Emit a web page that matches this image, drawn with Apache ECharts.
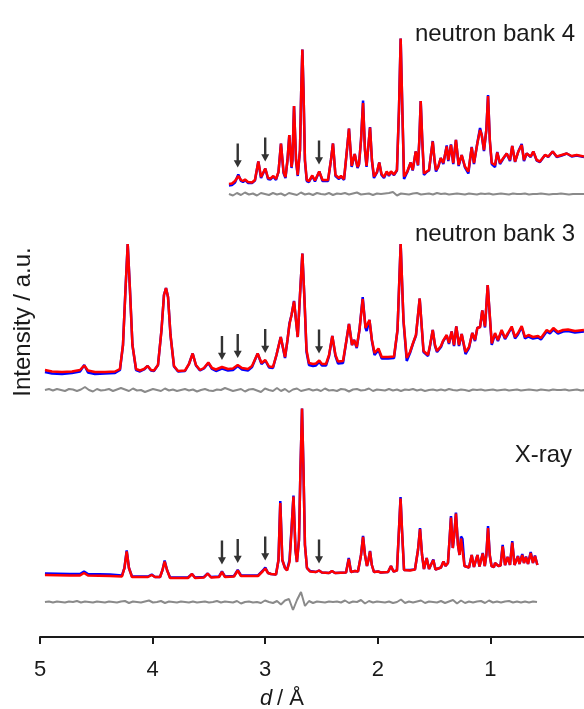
<!DOCTYPE html>
<html>
<head>
<meta charset="utf-8">
<script src="https://cdn.jsdelivr.net/npm/echarts@6/dist/echarts.min.js"></script>
<style>
  html, body { margin: 0; padding: 0; background: #ffffff; }
  #chart { width: 584px; height: 709px; }
</style>
</head>
<body>
<div id="chart"></div>
<script>
// ---- X-ray pattern: d-spacing (Å), calculated and observed intensity ----
const xrayD = [
  4.956, 4.734, 4.645, 4.609, 4.574, 4.378, 4.272, 4.250, 4.230, 4.210,
  4.183, 4.041, 4.008, 3.979, 3.934, 3.912, 3.893, 3.872, 3.845, 3.686,
  3.650, 3.623, 3.544, 3.511, 3.481, 3.410, 3.384, 3.357, 3.277, 3.244,
  3.215, 3.064, 3.020, 2.999, 2.975, 2.948, 2.931, 2.904, 2.882, 2.866,
  2.848, 2.824, 2.806, 2.784, 2.766, 2.749, 2.731, 2.718, 2.700, 2.687,
  2.673, 2.660, 2.647, 2.629, 2.602, 2.549, 2.522, 2.496, 2.433, 2.407,
  2.380, 2.282, 2.258, 2.238, 2.202, 2.176, 2.149, 2.131, 2.114, 2.096,
  2.083, 2.069, 2.053, 2.034, 1.998, 1.972, 1.909, 1.883, 1.861, 1.830,
  1.812, 1.798, 1.785, 1.767, 1.714, 1.670, 1.643, 1.625, 1.607, 1.590,
  1.566, 1.545, 1.528, 1.507, 1.488, 1.439, 1.417, 1.399, 1.377, 1.363,
  1.350, 1.334, 1.321, 1.306, 1.288, 1.274, 1.261, 1.248, 1.230, 1.190,
  1.166, 1.146, 1.132, 1.115, 1.097, 1.083, 1.068, 1.050, 1.036, 1.021,
  1.006, 0.990, 0.968, 0.959, 0.944, 0.928, 0.910, 0.891, 0.870, 0.846,
  0.826, 0.806, 0.786, 0.773, 0.755, 0.742, 0.717, 0.702, 0.684, 0.666,
  0.642, 0.622, 0.604, 0.583
];
const xrayCalc = [
  2, 1.5, 1.5, 4, 1.5, 1, 0.5, 9, 25.5, 9,
  0, 0, 2, 0, 0, 7, 15.5, 7, -1, -1,
  3, -1, -0.5, 3.5, -0.5, 0, 5, 0, 0.5, 6.5,
  1, 1, 6, 8.5, 4, 3, 4.5, 2.5, 17, 74,
  17, 9, 6.5, 15, 47, 80.5, 27, 15, 37, 107,
  168.5, 107, 32, 9, 5.5, 5, 6.5, 4.5, 4, 6,
  4, 4.5, 18, 5, 6, 5.5, 22, 40, 22, 11,
  17, 25.5, 12, 5, 5.5, 4.5, 5, 11, 5.5, 6.5,
  47, 78.5, 47, 7, 6.5, 7.5, 27, 48, 22, 8,
  19, 8, 8, 17, 7.5, 9.5, 15.5, 11, 14, 37,
  59.5, 29, 42, 63.5, 32, 22, 38.5, 37, 11, 9.5,
  22, 10, 10, 22, 10.5, 11, 23.5, 11, 22, 49,
  22, 11, 10, 14, 15.5, 11, 11.5, 30.5, 12, 20,
  12, 34.5, 12, 11.5, 20.5, 13, 22, 14, 20, 13,
  24, 14, 21, 12
];
const xrayObs = [
  3.5, 3, 3, 5.5, 3, 2.5, 1.5, 9, 26.5, 9,
  0.5, 0.5, 2.5, 0, 0, 7, 16.5, 7, -0.5, -0.5,
  3, -0.5, 0, 3.5, 0, 0.5, 5.5, 0.5, 1, 7,
  1.5, 1.5, 6.5, 9.5, 4, 3, 4.5, 2.5, 17, 76,
  17, 9, 7, 17, 49, 81.5, 27, 15, 37, 107,
  168.5, 107, 32, 9, 6, 5, 6.5, 4.5, 4, 6,
  4, 4.5, 19, 5, 6, 5.5, 22, 41, 22, 11,
  17, 26, 12, 5, 5.5, 4.5, 5, 11, 5.5, 6.5,
  47, 80, 47, 7, 7, 7.5, 27, 49, 22, 8,
  19, 8, 8, 17.5, 7.5, 9.5, 15.5, 11, 14, 37,
  61, 29, 42, 64.5, 32, 22, 40.5, 38, 11, 9.5,
  22, 10, 10, 22, 10.5, 11, 24, 11, 22, 51,
  22, 11, 10, 14, 15.5, 11, 11.5, 32, 12, 20,
  12, 36, 12, 11.5, 21, 13, 23, 14, 20.5, 13,
  25, 14, 21.5, 12
];
// difference curve, evenly stepped from first to last d
const xrayDiffRange = [4.956, 0.586];
const xrayDiff = [
  0, 0.5, -0.5, 0.5, 0, -0.5, 0.5, 0, 1, -0.5,
  0.5, 0, -0.5, 0.5, 0, -0.5, 0.5, 0, -0.5, 0.5,
  1, -1, 0.5, 0, -0.5, 0.5, 1.5, -0.5, 0, 1,
  -1, 0.5, 0, -0.5, 0.5, 0, -0.5, 0.5, -0.5, 0,
  0.5, -0.5, 0, 1, -0.5, 0.5, 0, -0.5, 1, -1.5,
  0, 0.5, -0.5, 0, -1, 1.5, 0, -1, 1, -2.5,
  1.5, 3, -8, 2, 10, -4, 1, -1, 0.5, 0,
  -0.5, 0.5, 0, 0.5, -0.5, 1.5, -1, 0.5, 0, 2,
  -1.5, 1, -0.5, 0.5, 0, -0.5, 0.5, -1, 0, 2.5,
  -1, 0.5, -0.5, 0.5, 1.5, -1, 0.5, 0, -0.5, 1,
  -1, 0.5, 2, -1.5, 1.5, -1, 0.5, -0.5, 0.5, 1,
  -1, 1.5, -0.5, 0.5, -0.5, 0.5, 1, -0.5, 0.5, -0.5,
  0.5, -0.5, 0.5, 0
];
const xrayArrows = [3.384, 3.244, 3.000, 2.522];

// ---- neutron bank 3 ----
const bank3D = [
  4.956, 4.893, 4.805, 4.716, 4.645, 4.607, 4.574, 4.512, 4.423, 4.334,
  4.290, 4.263, 4.241, 4.221, 4.201, 4.179, 4.147, 4.112, 4.076, 4.044,
  4.014, 3.988, 3.952, 3.921, 3.899, 3.881, 3.863, 3.841, 3.810, 3.774,
  3.712, 3.677, 3.644, 3.615, 3.579, 3.544, 3.505, 3.472, 3.437, 3.384,
  3.330, 3.286, 3.244, 3.206, 3.153, 3.117, 3.067, 3.033, 2.999, 2.966,
  2.931, 2.900, 2.862, 2.824, 2.802, 2.784, 2.766, 2.744, 2.711, 2.691,
  2.670, 2.651, 2.633, 2.611, 2.575, 2.549, 2.520, 2.496, 2.460, 2.433,
  2.404, 2.376, 2.353, 2.309, 2.278, 2.256, 2.229, 2.211, 2.187, 2.163,
  2.134, 2.109, 2.099, 2.074, 2.052, 2.029, 1.994, 1.965, 1.909, 1.856,
  1.825, 1.797, 1.772, 1.743, 1.714, 1.687, 1.661,
  1.628, 1.594, 1.554, 1.536, 1.512, 1.492, 1.474, 1.439, 1.421, 1.388,
  1.368, 1.344, 1.323, 1.303, 1.279, 1.255, 1.221, 1.190, 1.161, 1.137,
  1.116, 1.092, 1.072, 1.048, 1.024, 0.988, 0.959, 0.933, 0.900, 0.870,
  0.844, 0.811, 0.781, 0.755, 0.722, 0.693, 0.662, 0.622, 0.577, 0.551,
  0.500, 0.471, 0.441, 0.400, 0.355, 0.311, 0.249, 0.169
];
const bank3Calc = [
  1, -0.5, -1, -0.5, 1, 5.5, 0.5, -1, -1, -0.5,
  2, 26, 81, 127, 81, 26, 2, 0.5, 2, 5,
  1, 0.5, 6, 41, 76, 83, 74, 36, 5, 0,
  0.5, 7, 17.5, 6, 1, 3, 8.5, 3, 1.5, 4,
  2, 2.5, 6, 3, 2, 5, 17.5, 8, 11, 4.5,
  4, 16, 34, 14, 31, 47, 56, 69.5, 34, 76,
  117.5, 71, 21, 8, 7, 7.5, 10.5, 7, 7, 16,
  35, 16, 9.5, 10, 31, 47, 26, 31, 24, 41,
  72, 43, 41, 51, 31, 18, 22.5, 14, 14, 14.5,
  41, 127, 51, 13, 19, 28, 36,
  72.5, 20, 16, 26, 41, 26, 20, 25, 30, 36,
  28, 39.5, 26, 44.5, 26, 37, 19, 24, 38, 31,
  43, 44, 60.5, 44.5, 86, 27.5, 38, 31, 41, 33,
  38, 44.5, 34, 38, 45, 34, 36, 34, 35, 33,
  41, 39, 43, 39, 41, 41.5, 40, 41
];
const bank3Obs = [
  -1, -2.5, -3, -2, -0.5, 6, -1.5, -3, -2.5, -2,
  1, 26, 81, 127, 81, 26, 1, -0.5, 1.5, 5,
  0.5, 0, 6, 41, 76, 83, 74, 36, 4.5, -0.5,
  0, 7, 17.5, 5.5, 0.5, 2.5, 8, 2, 0, 2.5,
  0.5, 1, 5, 1.5, 0.5, 4, 17.5, 7, 10.5, 3.5,
  3, 16, 34, 13, 31, 48, 56, 70, 34, 76,
  117.5, 71, 19, 6, 5, 5.5, 9, 5.5, 5.5, 15,
  35, 15, 7.5, 8, 31, 47, 26, 31, 23, 41,
  74, 43, 40, 51, 30, 16, 21, 12.5, 12.5, 13,
  41, 127, 50, 10, 18, 27.5, 35.5,
  72.5, 19, 15, 25, 41, 25, 19, 24, 29.5, 35.5,
  27, 39.5, 25, 44.5, 25, 37, 17, 23, 38, 30,
  43, 44, 60.5, 43.5, 86, 26, 37, 30, 40, 32,
  37, 43.5, 32.5, 36.5, 44, 32.5, 34.5, 32.5, 33.5, 31.5,
  39.5, 37.5, 41.5, 37.5, 39.5, 40, 38.5, 39.5
];
const bank3DiffRange = [4.956, 0.160];
const bank3Diff = [
  0, 1, -0.5, 1, 0, -1, 1, 0.5, -1, 0.5,
  3, 0, -1.5, 1, -0.5, 0, 1, -1, 0.5, 2,
  0.5, -1, 1.5, -0.5, 0, -2, -0.5, 1, 0, -1,
  1.5, -0.5, 0.5, -1, 0, 1, -0.5, 0.5, -1.5, 0,
  1, -0.5, -1, 0.5, 0, 2, 0.5, -1, 0, 1,
  -1.5, 0.5, 1, -0.5, -2, 1.5, 0, -1, 2, -1,
  1, -2, 0.5, 1.5, -1, 0, 1, -0.5, 0.5, -1,
  1.5, -0.5, 0, -1, 1, 0.5, -1.5, 0.5, 1, -0.5,
  0, 1.5, -1, 0.5, 0, -0.5, 1, -0.5, 0.5, -1,
  0.5, 0, 1, -0.5, 0.5, -1, 0, 0.5, -0.5, 0.5,
  -0.5, 1, 0, -0.5, 0.5, 0, -1, 0.5, 0, 0.5,
  -0.5, 0, 0.5, -0.5, 0, 0.5, -0.5, 0, 0.5, -0.5,
  0, 0.5, 0, -0.5, 0.5, 0, -0.5, 0.5, 0, 0,
  0.5, -0.5, 0, 0.5, -0.5, 0
];
const bank3Arrows = [3.384, 3.244, 3.000, 2.522];

// ---- neutron bank 4 ----
const bank4D = [
  3.322, 3.295, 3.268, 3.239, 3.215, 3.197, 3.179, 3.153, 3.117, 3.091,
  3.061, 3.037, 3.024, 2.999, 2.975, 2.953, 2.928, 2.904, 2.882, 2.860,
  2.837, 2.820, 2.802, 2.786, 2.766, 2.758, 2.744, 2.726, 2.711, 2.691,
  2.680, 2.670, 2.660, 2.647, 2.631, 2.611,
  2.582, 2.558, 2.520, 2.491, 2.442, 2.416, 2.398, 2.376, 2.345, 2.327,
  2.300, 2.274, 2.256, 2.232, 2.205, 2.180, 2.167, 2.149, 2.131, 2.114,
  2.100, 2.087, 2.069, 2.052, 2.034, 2.007, 1.987, 1.967, 1.945, 1.921,
  1.901, 1.883, 1.856, 1.830, 1.812, 1.797, 1.782, 1.767, 1.738, 1.708,
  1.690, 1.663, 1.643, 1.631, 1.619, 1.605, 1.590, 1.566, 1.545, 1.528,
  1.512, 1.496, 1.483, 1.463, 1.441, 1.418, 1.388, 1.374, 1.350, 1.330,
  1.306, 1.282, 1.255, 1.226, 1.196, 1.166, 1.146, 1.116, 1.092, 1.077,
  1.057, 1.036, 1.021, 1.005, 0.988, 0.959, 0.939, 0.915, 0.885, 0.855,
  0.826, 0.806, 0.781, 0.752, 0.722, 0.702, 0.678, 0.642, 0.619, 0.589,
  0.560, 0.515, 0.486, 0.447, 0.411, 0.367, 0.322, 0.278, 0.234, 0.169
];
const bank4Calc = [
  -1, -0.5, 2, 7, 3, 2, 3.5, 1, 0.5, 3,
  21.5, 6, 4.5, 14.5, 5, 4.5, 7, 4, 11, 39.5,
  11, 6, 23, 48, 16, 23, 77, 23, 8, 33,
  93, 133.5, 93, 23, 3, 2,
  7.5, 2.5, 11.5, 3, 3, 23, 39.5, 8, 5, 7,
  4, 33, 54.5, 17, 29, 16, 19, 43, 80, 33,
  17, 33, 55.5, 23, 6.5, 11, 20.5, 9, 6, 11.5,
  8, 11.5, 8.5, 13, 73, 144.5, 73, 6.5, 11.5, 20.5,
  13, 31.5, 18, 43, 82, 43, 9.5, 11.5, 13, 28,
  41.5, 23, 13, 16.5, 25, 20, 36.5, 23, 38, 20,
  43, 18, 28, 16.5, 11.5, 35.5, 20, 39.5, 53, 48,
  33, 53, 87, 43, 20, 18, 30.5, 20, 25, 29.5,
  23, 37, 21.5, 31.5, 38, 23, 29.5, 26.5, 31.5, 23,
  21.5, 28, 26.5, 31.5, 26.5, 28, 29.5, 27, 28, 26.5
];
const bank4Obs = [
  -2.5, -2, 0.5, 8.5, 2, 1, 3, 0, 0, 2.5,
  21.5, 5, 4, 14.5, 4, 3.5, 6.5, 3, 11, 39.5,
  10, 5, 23, 48, 15, 23, 77, 22, 7, 33,
  93, 133.5, 93, 22, 2, 1,
  7, 1.5, 11.5, 2, 2, 23, 39.5, 7, 4, 6.5,
  3, 33, 54.5, 16, 29, 15, 18.5, 43, 82.5, 33,
  16, 33, 56, 22, 5, 10.5, 20.5, 8, 5, 11,
  7, 11, 8, 12.5, 73, 144.5, 73, 4, 11, 20.5,
  12.5, 31.5, 17.5, 43, 82, 42, 8, 11, 12.5, 28,
  42, 22, 11.5, 16, 25, 19, 37.5, 22, 38.5, 19,
  43, 17, 28, 15.5, 9.5, 36, 19, 40, 55, 48,
  32, 53.5, 88, 42, 19, 16, 31, 19, 24.5, 29.5,
  22, 37, 21, 31.5, 39, 22, 29.5, 26, 31.5, 22.5,
  21, 28, 26, 31.5, 26, 27.5, 29.5, 26.5, 27.5, 26
];
const bank4DiffRange = [3.322, 0.160];
const bank4Diff = [
  0, -1.5, 1, -1, 1.5, -0.5, 0.5, -1.5, 1, 0,
  -1, 1, -0.5, 0.5, -1.5, 1, 0, -1, 1.5, -0.5,
  0.5, -1, 1, 0, -0.5, 1, -1, 0.5, 0, 1,
  -0.5, 0.5, 1.5, -0.5, 0, 0.5, -1, 0.5, 0, 0.5,
  1, 2, -1.5, 0.5, 0, -0.5, 0.5, 1, -0.5, 0,
  0.5, -0.5, 1, 0, 0.5, -0.5, 0, 0.5, 0, -0.5,
  0.5, 0, -0.5, 0.5, 0, 0.5, -0.5, 0, 0.5, 0,
  -0.5, 0.5, 0, 0, 0.5, -0.5, 0, 0, 0.5, 0,
  -0.5, 0, 0, 0.5, 0, -0.5, 0, 0, 0, 0
];
const bank4Arrows = [3.244, 3.000, 2.522];

// x-axis tick labels (d / Å)
const dTicks = [5, 4, 3, 2, 1];

// ---- layout and styling ----
const FONT = '"Liberation Sans", Arial, Helvetica, sans-serif';
const INK = '#1a1a1a';
const ARROW_GAP = 7;
const ARROW_PATH = 'path://M2.1,0 L3.9,0 L3.9,16 L6,16 L3,23 L0,16 L2.1,16 Z';

// each pattern is stacked with its own vertical offset
const patterns = [
  { d: xrayD, calc: xrayCalc, obs: xrayObs, diff: xrayDiff, diffRange: xrayDiffRange,
    arrows: xrayArrows, offset: 60, diffOffset: 35 },
  { d: bank3D, calc: bank3Calc, obs: bank3Obs, diff: bank3Diff, diffRange: bank3DiffRange,
    arrows: bank3Arrows, offset: 266, diffOffset: 247 },
  { d: bank4D, calc: bank4Calc, obs: bank4Obs, diff: bank4Diff, diffRange: bank4DiffRange,
    arrows: bank4Arrows, offset: 454, diffOffset: 443 }
];

function nearestIndex(arr, v) {
  let best = 0;
  for (let i = 1; i < arr.length; i++) {
    if (Math.abs(arr[i] - v) < Math.abs(arr[best] - v)) best = i;
  }
  return best;
}

const series = [];
const arrowData = [];
patterns.forEach(function (p) {
  const n = p.diff.length;
  const step = (p.diffRange[1] - p.diffRange[0]) / (n - 1);
  series.push({
    type: 'line', z: 2, silent: true, showSymbol: false, symbol: 'none',
    lineStyle: { color: '#8a8a8a', width: 2 },
    data: p.diff.map(function (v, i) { return [p.diffRange[0] + step * i, p.diffOffset + v]; })
  });
  series.push({
    type: 'line', z: 3, silent: true, showSymbol: false, symbol: 'none',
    lineStyle: { color: '#0000ff', width: 2.5 },
    data: p.obs.map(function (v, i) { return [p.d[i], p.offset + v]; })
  });
  series.push({
    type: 'line', z: 4, silent: true, showSymbol: false, symbol: 'none',
    lineStyle: { color: '#ff0000', width: 2.5 },
    data: p.calc.map(function (v, i) { return [p.d[i], p.offset + v]; })
  });
  p.arrows.forEach(function (d) {
    const k = nearestIndex(p.d, d);
    arrowData.push([d, p.offset + Math.max(p.calc[k], p.obs[k]) + ARROW_GAP]);
  });
});
series.push({
  type: 'scatter', z: 6, silent: true,
  symbol: ARROW_PATH, symbolSize: [8, 24], symbolOffset: [0, '-50%'],
  itemStyle: { color: '#000000' },
  data: arrowData
});

function label(text, x, y, align, extra) {
  return Object.assign({
    type: 'text', x: x, y: y, silent: true,
    style: {
      text: text, fill: INK, font: '24px ' + FONT,
      align: align, verticalAlign: 'middle',
      textAlign: align, textVerticalAlign: 'middle'
    }
  }, extra || {});
}

const chart = echarts.init(document.getElementById('chart'), null, { renderer: 'canvas' });
chart.setOption({
  animation: false,
  backgroundColor: '#ffffff',
  grid: { left: 40, right: -19, top: 0, bottom: 72, containLabel: false, outerBoundsMode: 'none' },
  xAxis: {
    type: 'value', inverse: true,
    min: 0, max: dTicks[0], interval: 1,
    axisLine: { show: true, lineStyle: { color: INK, width: 2 } },
    axisTick: { show: true, inside: false, length: 7, lineStyle: { color: INK, width: 2 } },
    axisLabel: {
      show: true, color: INK, fontSize: 22, fontFamily: FONT, margin: 22,
      formatter: function (v) { return dTicks.indexOf(v) >= 0 ? String(v) : ''; }
    },
    splitLine: { show: false }
  },
  yAxis: {
    type: 'value', min: 0, max: 637,
    axisLine: { show: true, lineStyle: { color: INK, width: 2 } },
    axisTick: { show: false },
    axisLabel: { show: false },
    splitLine: { show: false }
  },
  graphic: [
    label('neutron bank 4', 575, 34, 'right'),
    label('neutron bank 3', 575, 234, 'right'),
    label('X-ray', 572, 455, 'right'),
    label('Intensity / a.u.', 23, 322, 'center', { rotation: Math.PI / 2 }),
    {
      type: 'text', x: 260, y: 699, silent: true,
      style: { text: 'd', fill: INK, font: 'italic 22px ' + FONT,
               align: 'left', verticalAlign: 'middle', textAlign: 'left', textVerticalAlign: 'middle' }
    },
    {
      type: 'text', x: 277, y: 699, silent: true,
      style: { text: '/ Å', fill: INK, font: '22px ' + FONT,
               align: 'left', verticalAlign: 'middle', textAlign: 'left', textVerticalAlign: 'middle' }
    }
  ],
  series: series
});
</script>
</body>
</html>
